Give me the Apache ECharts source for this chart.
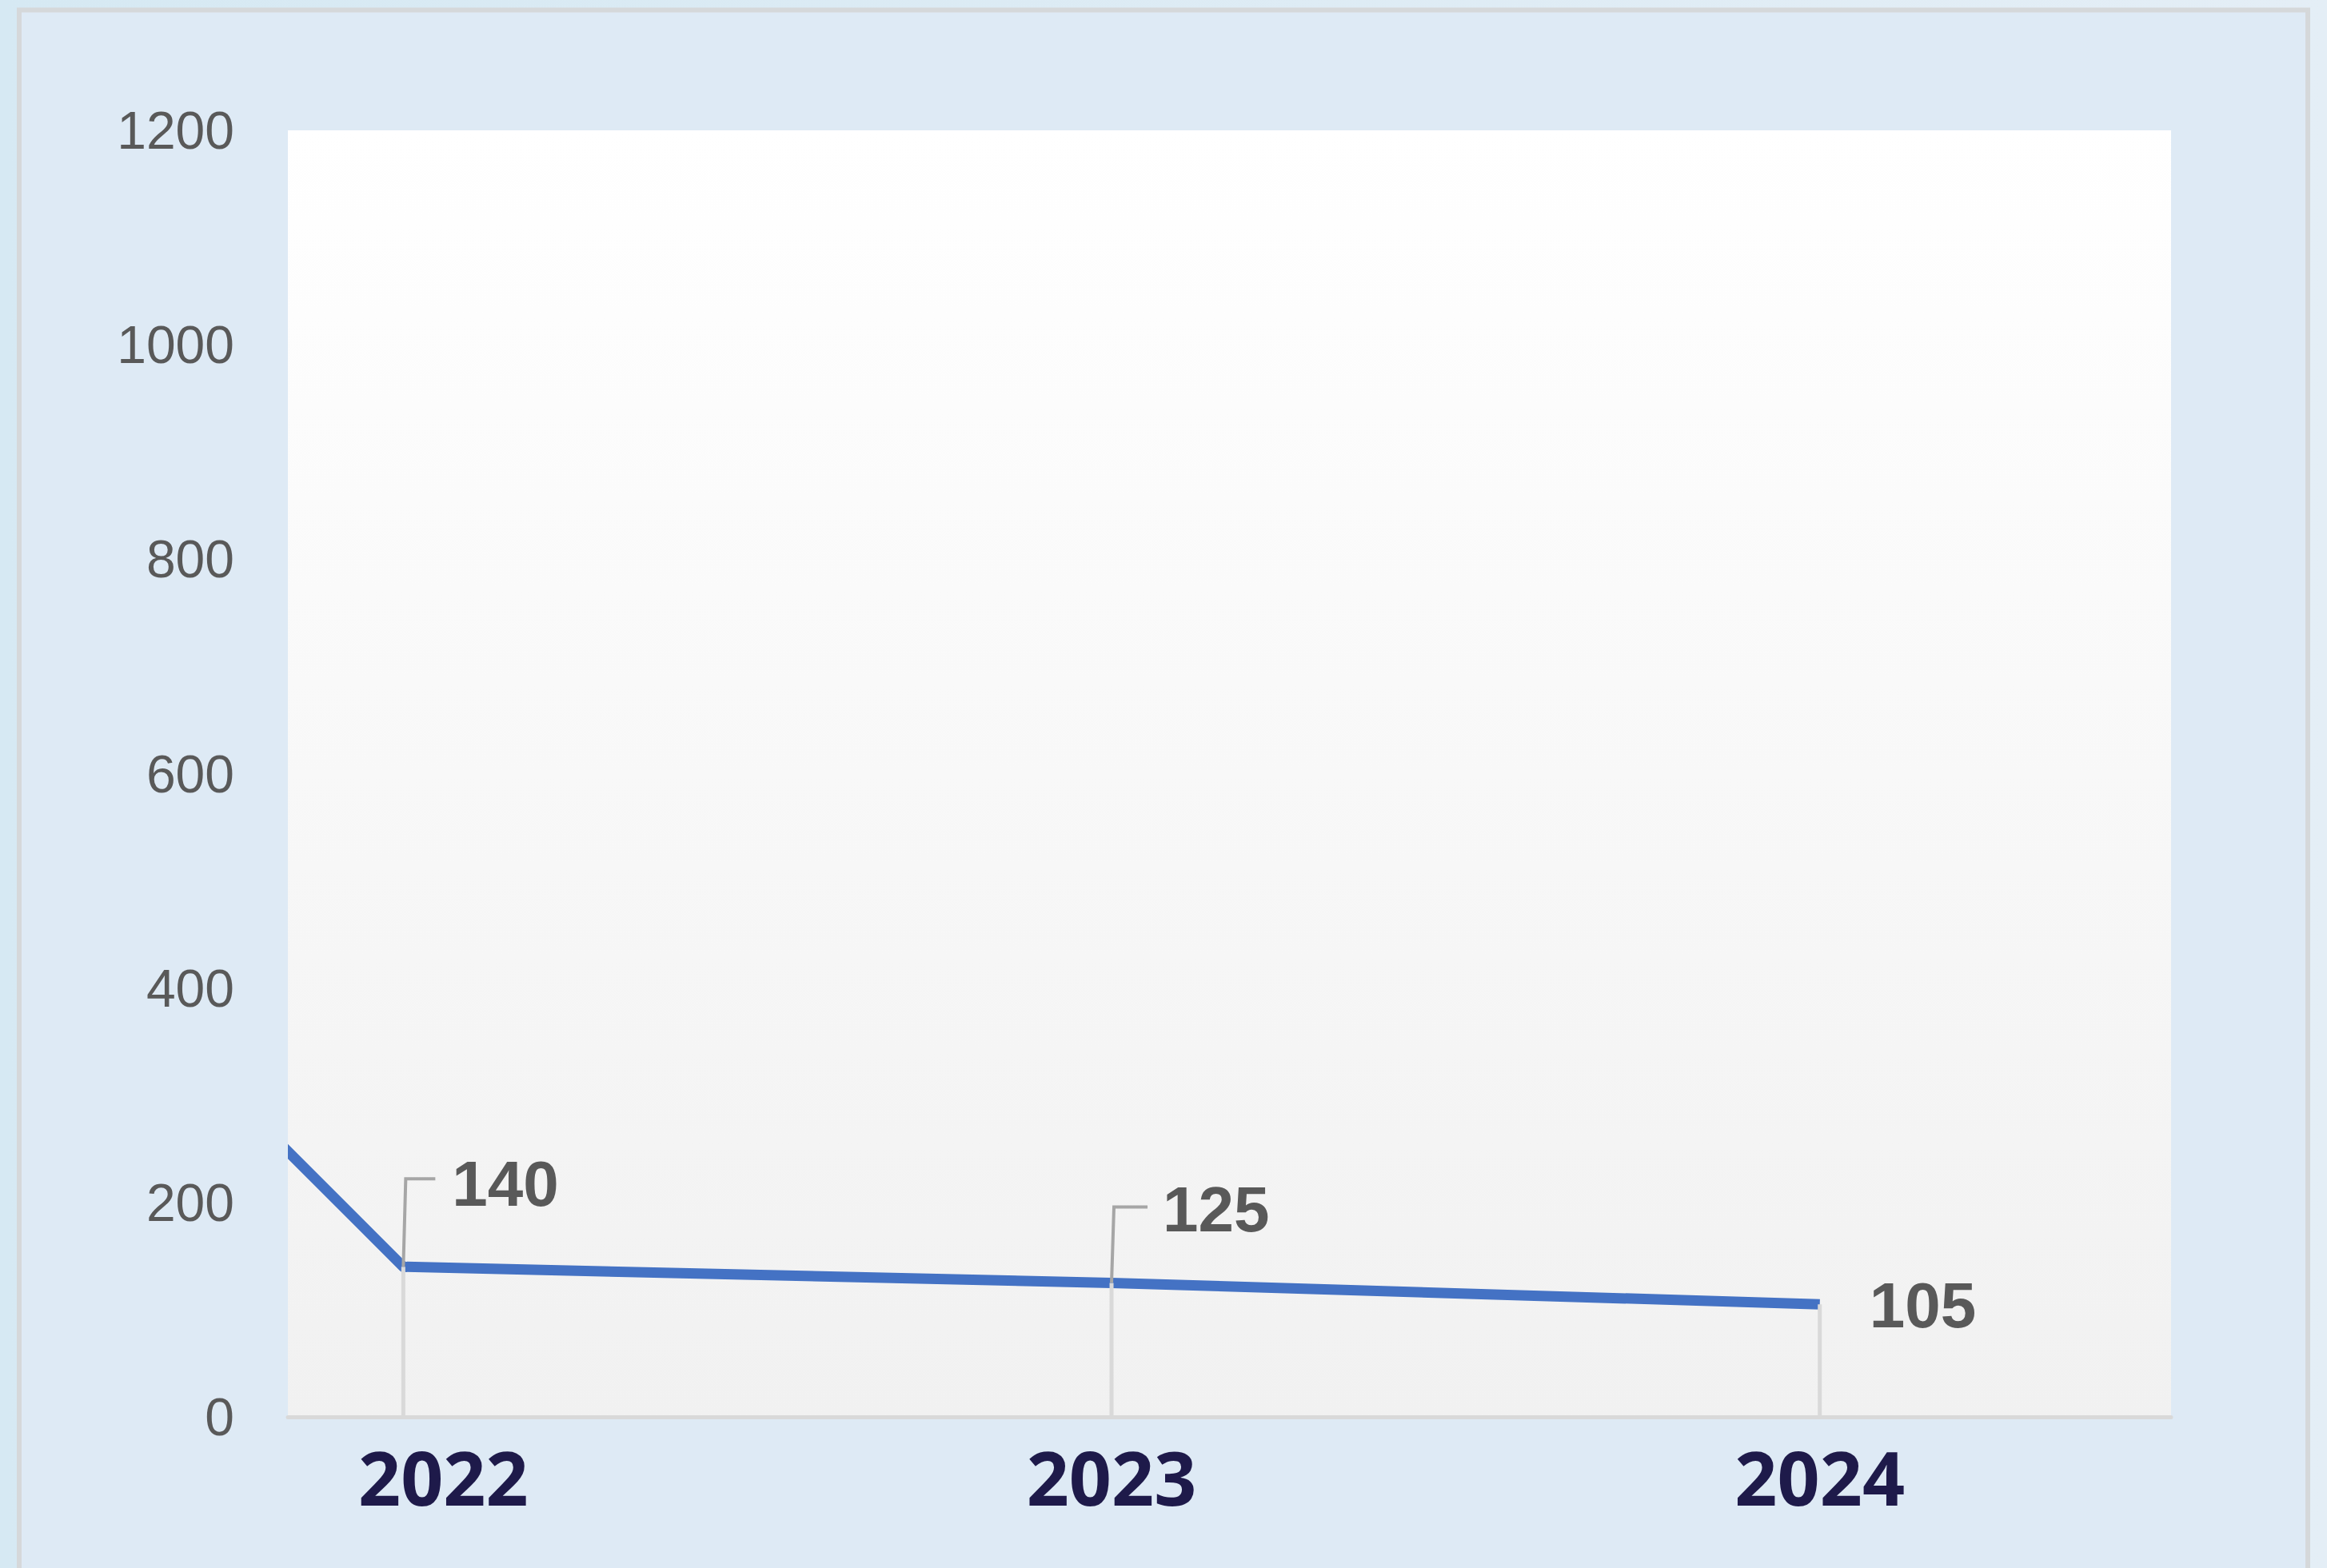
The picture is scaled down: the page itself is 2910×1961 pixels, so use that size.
<!DOCTYPE html>
<html>
<head>
<meta charset="utf-8">
<script src="https://cdn.jsdelivr.net/npm/echarts@6/dist/echarts.min.js"></script>
<style>
  html, body { margin: 0; padding: 0; overflow: hidden; }
  #main { width: 2910px; height: 1961px; }
</style>
</head>
<body>
<div id="main"></div>
<script>
// data (2021 is only partly visible at the left edge)
var years = [2021, 2022, 2023, 2024];
var values = [800, 140, 125, 105];
var xTickLabels = [2022, 2023, 2024];
var yTicks = [0, 200, 400, 600, 800, 1000, 1200];

// where Excel had the data labels dragged to (pixels from the point)
var labelNudge = {
    2022: { up: 110, right: 37, tx: 61, ty: -104, elbow: true },
    2023: { up: 95, right: 42, tx: 64, ty: -92, elbow: true },
    2024: { up: 0, right: 0, tx: 62, ty: 1, elbow: false }
};

var lineData = years.map(function (y, i) { return [y, values[i]]; });

var myChart = echarts.init(document.getElementById('main'), null, { renderer: 'svg' });

var option = {
    animation: false,
    backgroundColor: {
        type: 'linear', x: 0, y: 0, x2: 1, y2: 0,
        colorStops: [{ offset: 0, color: '#d6e9f3' }, { offset: 1, color: '#e4eef6' }]
    },
    graphic: [{
        type: 'rect',
        z: -10,
        shape: { x: 24, y: 12.5, width: 2862, height: 2100 },
        style: { fill: '#deeaf5', stroke: '#d5d8da', lineWidth: 6 }
    }, {
        // the line's clip box is a little wider than the plot; mask the overhang
        type: 'rect',
        z: 100,
        shape: { x: 320, y: 163, width: 40, height: 1600 },
        style: { fill: '#deeaf5' }
    }],
    grid: {
        left: 360, right: 195, top: 163, bottom: 189,
        show: true,
        borderWidth: 0,
        backgroundColor: {
            type: 'linear', x: 0, y: 0, x2: 0, y2: 1,
            colorStops: [{ offset: 0, color: '#ffffff' }, { offset: 1, color: '#f1f1f1' }]
        }
    },
    xAxis: {
        type: 'value',
        min: 2021.837,
        max: 2024.496,
        axisLine: { show: true, lineStyle: { color: '#d9d9d9', width: 5 } },
        axisTick: { show: false },
        splitLine: { show: false },
        axisLabel: {
            customValues: xTickLabels,
            margin: 28,
            color: '#1e1a4a',
            fontSize: 93,
            fontWeight: 'bold',
            fontFamily: 'Noto Sans',
            formatter: function (v) {
                // first label sits a bit right of its point in the original
                return v === xTickLabels[0] ? '{shift|' + v + '}' : String(v);
            },
            rich: {
                shift: {
                    padding: [0, 0, 0, 100],
                    color: '#1e1a4a', fontSize: 93, fontWeight: 'bold', fontFamily: 'Noto Sans'
                }
            }
        }
    },
    yAxis: {
        type: 'value',
        min: yTicks[0],
        max: yTicks[yTicks.length - 1],
        interval: 200,
        axisLine: { show: false },
        axisTick: { show: false },
        splitLine: { show: false },
        axisLabel: {
            margin: 67,
            color: '#595959',
            fontSize: 66,
            fontFamily: 'Liberation Sans',
            formatter: function (v) { return String(v); }
        }
    },
    series: [
        {
            type: 'line',
            data: lineData,
            z: 2,
            symbol: 'none',
            clip: true,
            lineStyle: { color: '#4472c4', width: 13, cap: 'butt', join: 'round' }
        },
        {
            // drop lines, label leader elbows and data labels
            type: 'custom',
            z: 3,
            data: lineData,
            renderItem: function (params, api) {
                var yr = api.value(0), v = api.value(1);
                var p = api.coord([yr, v]);
                var base = api.coord([yr, 0]);
                var cs = params.coordSys;
                if (p[0] < cs.x || p[0] > cs.x + cs.width) return null;
                var n = labelNudge[yr];
                var kids = [{
                    type: 'line',
                    shape: { x1: p[0], y1: p[1], x2: base[0], y2: base[1] },
                    style: { stroke: '#d9d9d9', lineWidth: 5 }
                }];
                if (n.elbow) {
                    kids.push({
                        type: 'polyline',
                        shape: { points: [[p[0], p[1]], [p[0] + 3, p[1] - n.up], [p[0] + 3 + n.right, p[1] - n.up]] },
                        style: { stroke: '#a6a6a6', lineWidth: 4, fill: null }
                    });
                }
                kids.push({
                    type: 'text',
                    style: {
                        text: String(v),
                        x: p[0] + n.tx,
                        y: p[1] + n.ty,
                        fill: '#595959',
                        fontSize: 80,
                        fontWeight: 'bold',
                        fontFamily: 'Liberation Sans',
                        align: 'left',
                        verticalAlign: 'middle'
                    }
                });
                return { type: 'group', children: kids };
            }
        }
    ]
};

myChart.setOption(option);
</script>
</body>
</html>
